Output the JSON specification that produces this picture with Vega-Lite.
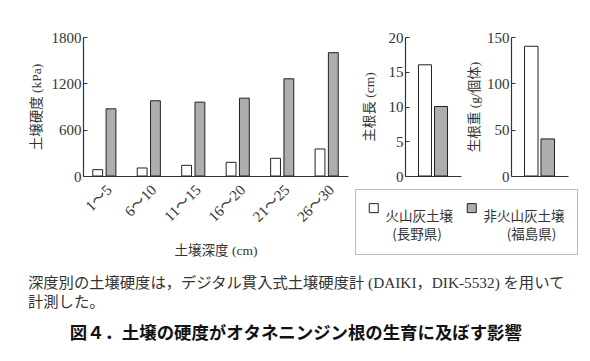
{
  "$schema": "https://vega.github.io/schema/vega-lite/v6.json",
  "background": "white",
  "padding": {"left": 28, "top": 30, "right": 5, "bottom": 5},
  "config": {
    "view": {"stroke": null},
    "font": "Liberation Serif, Noto Sans CJK JP",
    "axis": {
      "domainColor": "#333", "tickColor": "#333", "labelColor": "#333", "titleColor": "#333",
      "labelFont": "Liberation Serif, Noto Sans CJK JP", "labelFontSize": 15,
      "titleFont": "Liberation Serif, Noto Sans CJK JP", "titleFontSize": 13.5, "titleFontWeight": "normal",
      "grid": false, "domainWidth": 1.2
    },
    "axisY": {"tickSize": -4, "labelPadding": 6, "titlePadding": 5, "format": "d"},
    "legend": {
      "orient": "none", "legendX": 272, "legendY": 152,
      "direction": "horizontal", "columns": 2, "columnPadding": 12,
      "strokeColor": "#bbb", "padding": 12,
      "symbolType": "square", "symbolSize": 81, "symbolStrokeColor": "#222", "symbolStrokeWidth": 1,
      "labelFont": "Noto Sans CJK JP", "labelFontSize": 13.5, "labelColor": "#333", "labelLimit": 0, "labelOffset": 5
    }
  },
  "datasets": {
    "hardness": [
      {"depth": "1～5", "soil": "火山灰土壌", "kPa": 82},
      {"depth": "1～5", "soil": "非火山灰土壌", "kPa": 870},
      {"depth": "6～10", "soil": "火山灰土壌", "kPa": 104},
      {"depth": "6～10", "soil": "非火山灰土壌", "kPa": 974},
      {"depth": "11～15", "soil": "火山灰土壌", "kPa": 138},
      {"depth": "11～15", "soil": "非火山灰土壌", "kPa": 956},
      {"depth": "16～20", "soil": "火山灰土壌", "kPa": 177},
      {"depth": "16～20", "soil": "非火山灰土壌", "kPa": 1008},
      {"depth": "21～25", "soil": "火山灰土壌", "kPa": 229},
      {"depth": "21～25", "soil": "非火山灰土壌", "kPa": 1259},
      {"depth": "26～30", "soil": "火山灰土壌", "kPa": 350},
      {"depth": "26～30", "soil": "非火山灰土壌", "kPa": 1597}
    ],
    "roots": [
      {"soil": "火山灰土壌", "length": 16, "weight": 140},
      {"soil": "非火山灰土壌", "length": 10, "weight": 40}
    ]
  },
  "title": {
    "text": "図４．土壌の硬度がオタネニンジン根の生育に及ぼす影響",
    "orient": "bottom", "anchor": "middle", "frame": "bounds", "dx": -7,
    "font": "Noto Sans CJK JP", "fontSize": 17.4, "fontWeight": "bold", "color": "#111", "offset": 14
  },
  "spacing": 18,
  "vconcat": [
    {
      "spacing": 14,
      "hconcat": [
        {
          "width": 265, "height": 139,
          "data": {"name": "hardness"},
          "mark": {"type": "bar", "stroke": "#222", "strokeWidth": 1},
          "encoding": {
            "x": {"field": "depth", "type": "nominal", "sort": null,
                  "scale": {"paddingInner": 0.48, "paddingOuter": 0.22},
                  "axis": {"title": "土壌深度 (cm)", "labelAngle": -45, "ticks": false, "labelPadding": 6, "titlePadding": 19}},
            "xOffset": {"field": "soil", "type": "nominal", "sort": ["火山灰土壌", "非火山灰土壌"],
                        "scale": {"paddingInner": 0.26, "paddingOuter": 0}},
            "y": {"field": "kPa", "type": "quantitative", "scale": {"domain": [0, 1800]},
                  "axis": {"values": [0, 600, 1200, 1800], "title": "土壌硬度 (kPa)", "titlePadding": 8}},
            "color": {"field": "soil", "type": "nominal",
                      "scale": {"domain": ["火山灰土壌", "非火山灰土壌"], "range": ["#ffffff", "#aeaeae"]},
                      "legend": {"title": null,
                                 "labelExpr": "datum.label === '火山灰土壌' ? ['火山灰土壌', '\u200b\u2002(長野県)'] : ['非火山灰土壌', '\u200b\u2002\u2002\u2002\u00a0(福島県)']",
                                 "encode": {"labels": {"update": {"dy": {"value": 9}, "lineHeight": {"value": 18}}}}}}
          }
        },
        {
          "spacing": 6,
          "hconcat": [
            {
              "width": 56, "height": 139,
              "data": {"name": "roots"},
              "mark": {"type": "bar", "stroke": "#222", "strokeWidth": 1},
              "encoding": {
                "x": {"field": "soil", "type": "nominal", "sort": ["火山灰土壌", "非火山灰土壌"],
                      "scale": {"paddingInner": 0.19, "paddingOuter": 0.84},
                      "axis": {"title": null, "labels": false, "ticks": false}},
                "y": {"field": "length", "type": "quantitative", "scale": {"domain": [0, 20]},
                      "axis": {"values": [0, 5, 10, 15, 20], "title": "主根長 (cm)", "titlePadding": 12}},
                "color": {"field": "soil", "type": "nominal",
                          "scale": {"domain": ["火山灰土壌", "非火山灰土壌"], "range": ["#ffffff", "#aeaeae"]},
                          "legend": {"title": null,
                                     "labelExpr": "datum.label === '火山灰土壌' ? ['火山灰土壌', '\u200b\u2002(長野県)'] : ['非火山灰土壌', '\u200b\u2002\u2002\u2002\u00a0(福島県)']",
                                     "encode": {"labels": {"update": {"dy": {"value": 9}, "lineHeight": {"value": 18}}}}}}
              }
            },
            {
              "width": 57, "height": 139,
              "data": {"name": "roots"},
              "mark": {"type": "bar", "stroke": "#222", "strokeWidth": 1},
              "encoding": {
                "x": {"field": "soil", "type": "nominal", "sort": ["火山灰土壌", "非火山灰土壌"],
                      "scale": {"paddingInner": 0.18, "paddingOuter": 0.82},
                      "axis": {"title": null, "labels": false, "ticks": false}},
                "y": {"field": "weight", "type": "quantitative", "scale": {"domain": [0, 150]},
                      "axis": {"values": [0, 50, 100, 150], "title": "生根重 (g/個体)", "titlePadding": 5}},
                "color": {"field": "soil", "type": "nominal",
                          "scale": {"domain": ["火山灰土壌", "非火山灰土壌"], "range": ["#ffffff", "#aeaeae"]},
                          "legend": {"title": null,
                                     "labelExpr": "datum.label === '火山灰土壌' ? ['火山灰土壌', '\u200b\u2002(長野県)'] : ['非火山灰土壌', '\u200b\u2002\u2002\u2002\u00a0(福島県)']",
                                     "encode": {"labels": {"update": {"dy": {"value": 9}, "lineHeight": {"value": 18}}}}}}
              }
            }
          ]
        }
      ]
    },
    {
      "width": 480, "height": 1,
      "data": {"values": []},
      "mark": "point",
      "title": {
        "text": ["深度別の土壌硬度は，デジタル貫入式土壌硬度計 (DAIKI，DIK-5532) を用いて", "計測した。"],
        "orient": "top", "anchor": "start", "offset": 0, "dx": -55,
        "font": "Liberation Serif, Noto Sans CJK JP", "fontSize": 15.3, "fontWeight": "normal",
        "color": "#333", "lineHeight": 19
      }
    }
  ]
}
